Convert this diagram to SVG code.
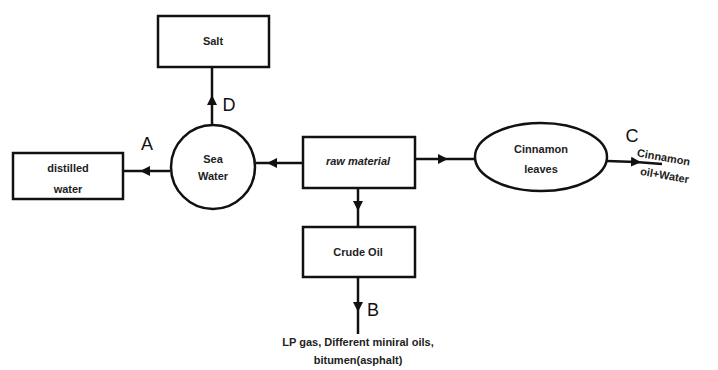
<svg xmlns="http://www.w3.org/2000/svg" width="718" height="370" viewBox="0 0 718 370">
<style>
.shape{fill:#fff;stroke:#111;stroke-width:2.5}
.line{fill:none;stroke:#111;stroke-width:2.5}
.t{font-family:"Liberation Sans Narrow","Liberation Sans",Arial,sans-serif;font-size:11px;font-weight:bold;fill:#222;text-anchor:middle}
.lbl{font-family:"Liberation Sans",Arial,sans-serif;font-size:18px;fill:#111;text-anchor:middle}
</style>
<defs>
<marker id="ah" viewBox="0 0 10 10" refX="5" refY="5" markerWidth="4" markerHeight="4" orient="auto" markerUnits="strokeWidth">
<path d="M0,0 L10,5 L0,10 z" fill="#111"/>
</marker>
</defs>
<rect width="718" height="370" fill="#fff"/>
<g id="connectors">
<path class="line" d="M212,128 L212,100 L212,67" marker-mid="url(#ah)"/>
<path class="line" d="M170,171 L145,171 L123,171" marker-mid="url(#ah)"/>
<path class="line" d="M303,163 L272,163 L256,163" marker-mid="url(#ah)"/>
<path class="line" d="M415,159 L443,159 L476,159" marker-mid="url(#ah)"/>
<path class="line" d="M607,161 L636,162 L662,164" marker-mid="url(#ah)"/>
<path class="line" d="M358,188 L358,206 L358,227" marker-mid="url(#ah)"/>
<path class="line" d="M358,277 L358,307 L358,334" marker-mid="url(#ah)"/>
<text class="lbl" x="229" y="111">D</text>
<text class="lbl" x="147" y="150">A</text>
<text class="lbl" x="632" y="142">C</text>
<text class="lbl" x="373" y="316">B</text>
</g>
<g id="salt">
<rect class="shape" x="158" y="16" width="111" height="51"/>
<text class="t" x="213" y="45">Salt</text>
</g>
<g id="sea-water">
<circle class="shape" cx="213" cy="167" r="42"/>
<text class="t" x="213" y="163">Sea</text>
<text class="t" x="213" y="180">Water</text>
</g>
<g id="distilled-water">
<rect class="shape" x="13" y="153" width="110" height="46"/>
<text class="t" x="68" y="172">distilled</text>
<text class="t" x="68" y="193">water</text>
</g>
<g id="raw-material">
<rect class="shape" x="303" y="137" width="112" height="51"/>
<text class="t" x="358" y="165" font-style="italic">raw material</text>
</g>
<g id="cinnamon-leaves">
<ellipse class="shape" cx="541" cy="157" rx="66" ry="34"/>
<text class="t" x="541" y="153">Cinnamon</text>
<text class="t" x="541" y="173">leaves</text>
</g>
<g id="crude-oil">
<rect class="shape" x="303" y="227" width="112" height="50"/>
<text class="t" x="358" y="256">Crude Oil</text>
</g>
<g id="cinnamon-oil-water">
<text class="t" x="663" y="161" text-anchor="start" font-size="12" transform="rotate(10 663 161)">Cinnamon</text>
<text class="t" x="664" y="179" text-anchor="start" font-size="12" transform="rotate(10 664 179)">oil+Water</text>
</g>
<g id="products">
<text class="t" x="358" y="346">LP gas, Different miniral oils,</text>
<text class="t" x="358" y="364">bitumen(asphalt)</text>
</g>
</svg>
